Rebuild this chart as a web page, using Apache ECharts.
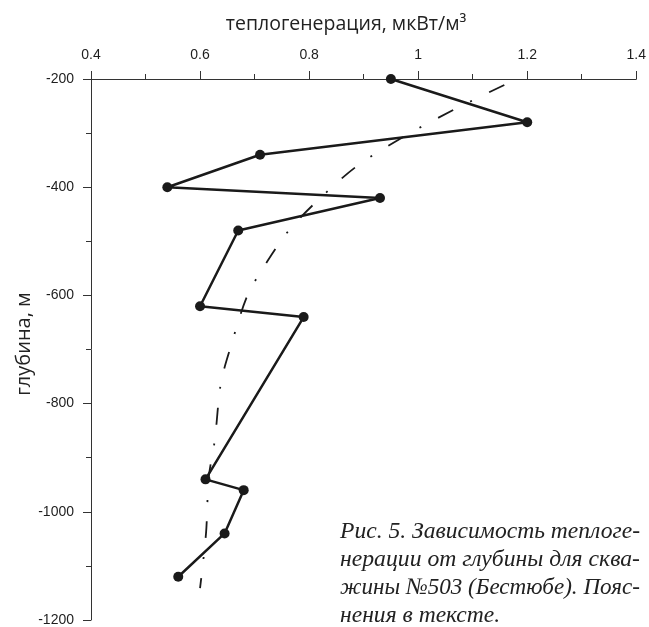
<!DOCTYPE html>
<html><head><meta charset="utf-8">
<script src="https://cdn.jsdelivr.net/npm/echarts@6/dist/echarts.min.js"></script>
<style>html,body{margin:0;padding:0;background:#fff}#c{width:649px;height:627px}</style>
</head><body><div id="c"></div>
<script>
const xTitle = 'теплогенерация, мкВт/м³';
const yTitle = 'глубина, м';
const heatValues  = [0.95, 1.2, 0.71, 0.54, 0.93, 0.67, 0.6, 0.79, 0.61, 0.68, 0.645, 0.56];
const depthValues = [-200, -280, -340, -400, -420, -480, -620, -640, -940, -960, -1040, -1120];
const trendHeat  = [1.158, 1.065, 0.971, 0.885, 0.809, 0.762, 0.724, 0.687, 0.655, 0.638, 0.627, 0.616, 0.611, 0.600];
const trendDepth = [-211, -257, -308, -363, -431, -481, -536, -600, -699, -763, -868, -936, -1039, -1141];
const captionLines = [
  'Рис. 5. Зависимость теплоге-',
  'нерации от глубины для сква-',
  'жины №503 (Бестюбе). Пояс-',
  'нения в тексте.'
];

const CAP_LEFT = 340, CAP_W = 300;
const cv = document.createElement('canvas').getContext('2d');
cv.font = 'italic 22px "Liberation Serif"';
const capFs = Math.min(24, 22 * CAP_W / cv.measureText(captionLines[0]).width);
const CAP_FONT = 'italic ' + capFs.toFixed(2) + 'px "Liberation Serif"';
cv.font = CAP_FONT;
const capScales = captionLines.map((t, i) => i < 3 ? CAP_W / cv.measureText(t).width : 1);

const chart = echarts.init(document.getElementById('c'), null, {renderer: 'canvas'});
const ink = '#1a1a1a';
const lblStyle = {color: '#1e1e1e', fontFamily: '"Liberation Sans", Arial', fontSize: 14};

chart.setOption({
  animation: false,
  backgroundColor: '#fff',
  grid: {left: 91, right: 8, top: 79, bottom: 3, containLabel: false},
  xAxis: {
    type: 'value', position: 'top', min: 0.4, max: 1.4, interval: 0.2,
    splitLine: {show: false},
    axisLine: {show: true, lineStyle: {color: '#333', width: 1}},
    axisTick: {show: true, inside: false, length: 8, lineStyle: {color: '#333'}},
    minorTick: {show: true, splitNumber: 2, length: 5, lineStyle: {color: '#333'}},
    axisLabel: Object.assign({margin: 17, formatter: v => String(+v.toFixed(2))}, lblStyle)
  },
  yAxis: {
    type: 'value', min: -1200, max: -200, interval: 200,
    splitLine: {show: false},
    axisLine: {show: true, lineStyle: {color: '#333', width: 1}},
    axisTick: {show: true, inside: false, length: 8, lineStyle: {color: '#333'}},
    minorTick: {show: true, splitNumber: 2, length: 5, lineStyle: {color: '#333'}},
    axisLabel: Object.assign({margin: 17, formatter: v => String(v)}, lblStyle)
  },
  series: [
    {
      type: 'line', data: trendHeat.map((v, i) => [v, trendDepth[i]]),
      showSymbol: false, symbol: 'none', smooth: 0.3,
      lineStyle: {color: ink, width: 1.8, type: [17, 19, 2, 19], cap: 'butt'},
      z: 2
    },
    {
      type: 'line', data: heatValues.map((v, i) => [v, depthValues[i]]),
      symbol: 'circle', symbolSize: 10,
      itemStyle: {color: ink},
      lineStyle: {color: ink, width: 2.5},
      z: 3
    }
  ],
  graphic: [
    {
      type: 'text', x: 346, y: 24,
      style: {text: xTitle, font: '19.5px "Open Sans"', fill: '#222', align: 'center', verticalAlign: 'middle'}
    },
    {
      type: 'text', x: 24, y: 344, rotation: Math.PI / 2,
      style: {text: yTitle, font: '20px "Open Sans"', fill: '#222', align: 'center', verticalAlign: 'middle'}
    }
  ].concat(captionLines.map((t, i) => ({
    type: 'text', x: CAP_LEFT, y: 532 + i * 28, scaleX: capScales[i],
    style: {text: t, font: CAP_FONT, fill: '#222', align: 'left', verticalAlign: 'middle'}
  })))
});
</script></body></html>
